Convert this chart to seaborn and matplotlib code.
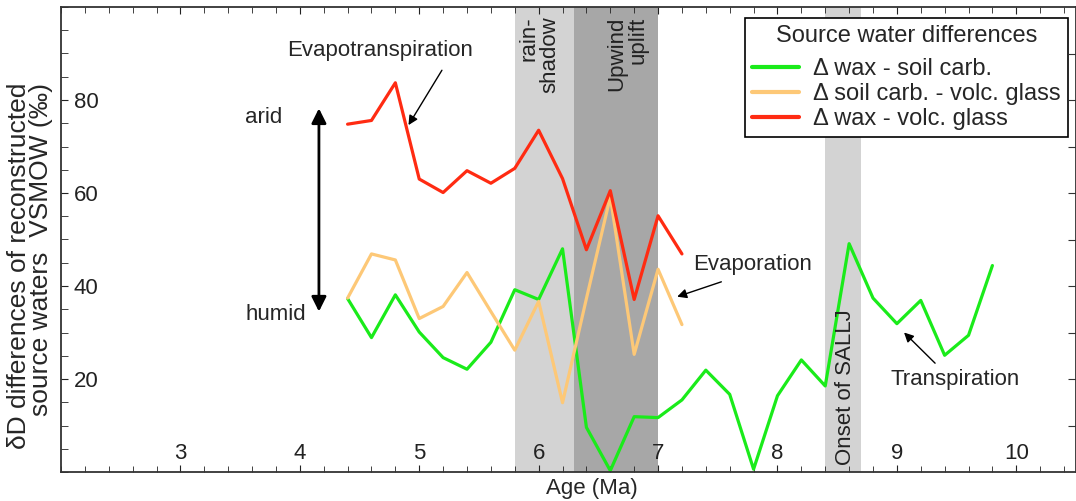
import matplotlib
matplotlib.use('Agg')
import matplotlib.pyplot as plt
from matplotlib.ticker import MultipleLocator
import pandas as pd
import seaborn as sns

# ages (Ma)
age_long = [4.4, 4.6, 4.8, 5.0, 5.2, 5.4, 5.6, 5.8, 6.0, 6.2, 6.4, 6.6, 6.8, 7.0,
            7.2, 7.4, 7.6, 7.8, 8.0, 8.2, 8.4, 8.6, 8.8, 9.0, 9.2, 9.4, 9.6, 9.8]
age_short = [4.4, 4.6, 4.8, 5.0, 5.2, 5.4, 5.6, 5.8, 6.0, 6.2, 6.4, 6.6, 6.8, 7.0, 7.2]

# dD differences (permil)
wax_soil = [37.3, 28.9, 38.1, 30.1, 24.6, 22.1, 27.9, 39.2, 37.1, 48.0,
            9.6, 0.3, 11.9, 11.7, 15.5, 21.9, 16.7, 0.6, 16.4, 24.1,
            18.5, 49.1, 37.4, 31.9, 36.9, 25.1, 29.4, 44.4]
soil_glass = [37.4, 46.9, 45.6, 33.0, 35.6, 42.9, 34.5, 26.2, 36.7, 14.9,
              37.3, 59.2, 25.3, 43.6, 31.7]
wax_glass = [74.8, 75.6, 83.7, 63.0, 60.1, 64.8, 62.1, 65.3, 73.5, 63.1,
             47.8, 60.5, 37.1, 55.1, 46.9]

series_names = ['\u0394 wax - soil carb.', '\u0394 soil carb. - volc. glass',
                '\u0394 wax - volc. glass']
series_colors = ['#1aeb1a', '#fdc877', '#ff2b12']

df = pd.concat([
    pd.DataFrame({'age': age_long, 'diff': wax_soil, 'series': series_names[0]}),
    pd.DataFrame({'age': age_short, 'diff': soil_glass, 'series': series_names[1]}),
    pd.DataFrame({'age': age_short, 'diff': wax_glass, 'series': series_names[2]}),
], ignore_index=True)

sns.set_style('ticks')
plt.rcParams['font.family'] = ['Liberation Sans', 'DejaVu Sans']
fs = 16

fig = plt.figure(figsize=(10.76, 5.01), dpi=100)
ax = fig.add_axes([61 / 1076, 1 - 472 / 501, 1015 / 1076, 465 / 501])

# shaded intervals
ax.axvspan(5.8, 6.3, color='#d3d3d3', lw=0, zorder=0)
ax.axvspan(6.3, 7.0, color='#a7a7a7', lw=0, zorder=0)
ax.axvspan(8.4, 8.7, color='#d3d3d3', lw=0, zorder=0)

sns.lineplot(data=df, x='age', y='diff', hue='series', hue_order=series_names,
             palette=dict(zip(series_names, series_colors)), estimator=None,
             sort=False, lw=2.3, ax=ax)

ax.set_xlim(2, 10.5)
ax.set_ylim(0, 100)
ax.set_xticks(range(3, 11))
ax.xaxis.set_minor_locator(MultipleLocator(0.2))
ax.set_yticks([20, 40, 60, 80])
ax.yaxis.set_minor_locator(MultipleLocator(5))
ax.tick_params(which='both', direction='in', top=True, colors='#222222', labelsize=fs)
ax.tick_params(axis='x', which='major', length=5, pad=-21)
ax.tick_params(axis='x', which='minor', length=4)
ax.tick_params(axis='y', which='major', length=5, pad=-27, right=False)
ax.tick_params(axis='y', which='minor', length=5, right=False)
for s in ax.spines.values():
    s.set_color('#333333')
    s.set_linewidth(1.3)

ax_r = ax.twinx()
ax_r.set_ylim(0, 100)
ax_r.set_yticks(range(10, 100, 10))
ax_r.tick_params(direction='in', length=6, labelright=False, color='#333333')
for s in ax_r.spines.values():
    s.set_visible(False)

ax.set_xlabel('Age (Ma)', fontsize=fs)
ax.xaxis.set_label_coords(0.523, -0.012)
ax.set_ylabel('\u03b4D differences of reconstructed\nsource waters  VSMOW (\u2030)',
              fontsize=19, multialignment='right', linespacing=0.9)
ax.yaxis.set_label_coords(-0.008, 0.443)

# band labels
ax.text(6.01, 98, 'rain-\nshadow', rotation=90, ha='center', va='top', fontsize=fs,
        multialignment='right', linespacing=1.0, color='#222222')
ax.text(6.74, 98, 'Upwind\nuplift', rotation=90, ha='center', va='top', fontsize=fs,
        multialignment='right', linespacing=1.0, color='#222222')
ax.text(8.57, 1.5, 'Onset of SALLJ', rotation=90, ha='center', va='bottom', fontsize=fs,
        color='#222222')

# annotations
arr = dict(arrowstyle='-|>', color='black', lw=1, mutation_scale=14, shrinkA=0, shrinkB=0)
ax.annotate('', xy=(4.91, 74.6), xytext=(5.19, 86.4), arrowprops=arr)
ax.text(4.67, 90.6, 'Evapotranspiration', ha='center', va='center', fontsize=fs)
ax.annotate('', xy=(7.16, 37.7), xytext=(7.53, 40.9), arrowprops=arr)
ax.text(7.79, 44.6, 'Evaporation', ha='center', va='center', fontsize=fs)
ax.annotate('', xy=(9.06, 30.0), xytext=(9.32, 23.4), arrowprops=arr)
ax.text(9.49, 19.9, 'Transpiration', ha='center', va='center', fontsize=fs)

ax.annotate('', xy=(4.16, 78.2), xytext=(4.16, 34.5),
            arrowprops=dict(arrowstyle='<|-|>', color='black', lw=2,
                            mutation_scale=22, shrinkA=0, shrinkB=0))
ax.text(3.70, 76.3, 'arid', ha='center', va='center', fontsize=fs)
ax.text(3.80, 33.9, 'humid', ha='center', va='center', fontsize=fs)

handles, labels = ax.get_legend_handles_labels()
leg = ax.legend(handles, labels, title='Source water differences', loc='upper right',
                bbox_to_anchor=(0.992, 0.976), borderaxespad=0, fontsize=17,
                title_fontsize=17, frameon=True, fancybox=False, edgecolor='black',
                framealpha=1, handlelength=2.0, handletextpad=0.6, labelspacing=0.12,
                borderpad=0.3)
leg.get_frame().set_linewidth(1.2)
leg._legend_box.sep = 8
for h in leg.get_lines():
    h.set_linewidth(3)

fig.savefig('out.png', dpi=100)
